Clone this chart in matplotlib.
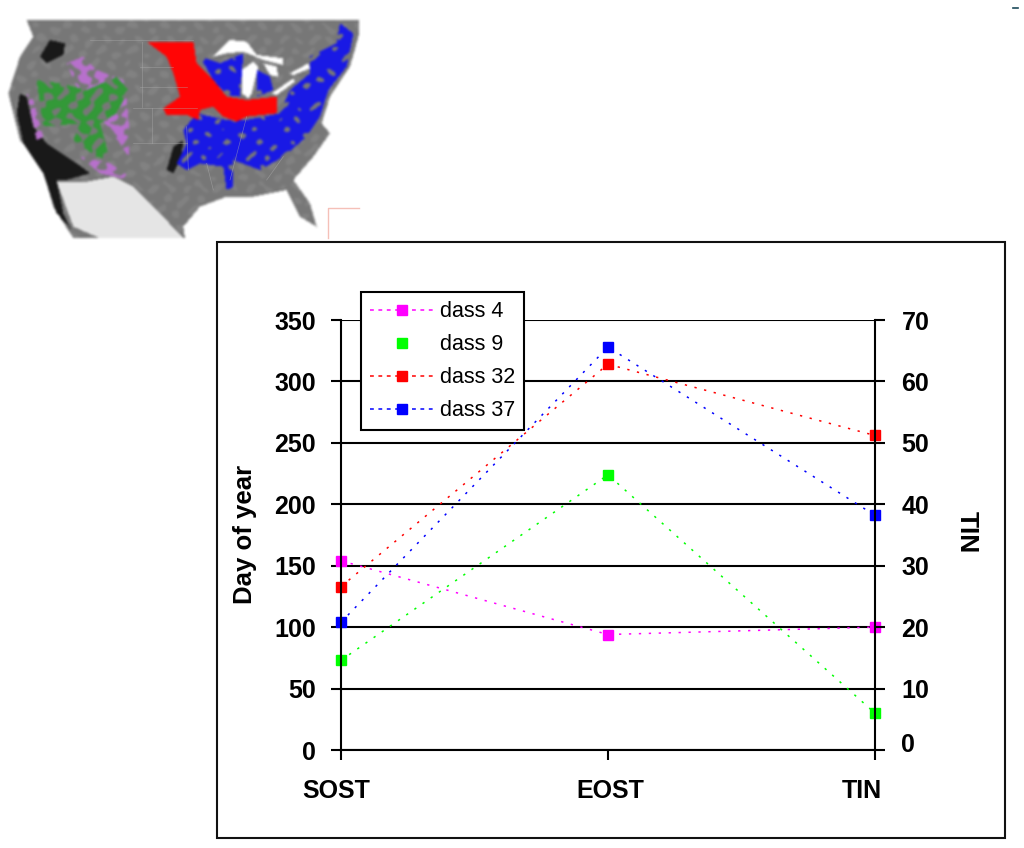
import matplotlib

matplotlib.use("Agg")
import matplotlib.pyplot as plt
import numpy as np
from matplotlib.lines import Line2D
from matplotlib.patches import Rectangle
from matplotlib.path import Path
from matplotlib.transforms import ScaledTranslation

W, H = 1024, 848

# chart values
stages = ["SOST", "EOST", "TIN"]
class_names = ["dass 4", "dass 9", "dass 32", "dass 37"]
class_4 = [154, 94, 100]
class_9 = [73, 224, 30]
class_32 = [133, 314, 256]
class_37 = [104, 328, 191]
class_colors = ["#ff00ff", "#00ff00", "#ff0000", "#0000ff"]
day_ticks = [0, 50, 100, 150, 200, 250, 300, 350]
tin_ticks = [0, 10, 20, 30, 40, 50, 60, 70]

# map shapes, in pixels of the 3x crop of the map corner
land = [(80, 60), (1078, 60), (1078, 100), (1050, 200), (990, 290), (965, 370), (990, 400),
        (940, 470), (880, 540), (930, 610), (950, 680), (900, 650), (860, 570), (760, 590),
        (680, 590), (600, 620), (550, 680), (555, 715), (220, 715), (160, 620), (120, 480),
        (60, 420), (25, 280), (60, 170), (100, 110)]
mexico = [(170, 545), (260, 545), (340, 530), (400, 560), (480, 640), (550, 715), (300, 715), (220, 680)]
dark = [[(60, 280), (80, 290), (100, 380), (140, 430), (230, 490), (270, 520), (200, 540),
         (170, 540), (190, 640), (215, 690), (170, 640), (130, 520), (70, 430), (50, 340)],
        [(120, 170), (150, 120), (195, 130), (190, 165), (140, 190)],
        [(520, 440), (550, 420), (545, 470), (520, 520), (500, 510)]]
lakes = [[(640, 170), (690, 120), (740, 125), (770, 165), (850, 175), (850, 195), (790, 180),
          (730, 155), (680, 160)],
         [(725, 210), (760, 185), (775, 200), (755, 280), (745, 295), (725, 280)],
         [(790, 190), (830, 200), (835, 230), (810, 225)],
         [(815, 280), (880, 235), (885, 245), (830, 285)],
         [(870, 220), (925, 190), (930, 205), (880, 225)]]
red = [[(440, 125), (580, 125), (590, 190), (640, 240), (680, 290), (740, 300), (830, 290),
        (830, 340), (740, 350), (710, 365), (670, 350), (640, 320), (600, 330), (595, 360),
        (560, 345), (500, 345), (490, 325), (540, 290), (520, 220), (500, 170)]]
blue = [[(530, 490), (560, 430), (550, 390), (590, 340), (680, 360), (740, 360), (840, 340),
         (870, 270), (930, 220), (930, 170), (1010, 130), (1020, 70), (1060, 100), (1040, 200),
         (985, 270), (960, 350), (920, 410), (850, 470), (780, 510), (700, 480), (700, 560),
         (680, 570), (670, 500), (600, 490), (560, 510)],
        [(660, 190), (730, 160), (720, 290), (680, 285), (640, 240), (600, 170)],
        [(770, 210), (810, 230), (820, 270), (770, 290)]]
purple = [[(200, 190), (250, 170), (290, 210), (370, 240), (380, 300), (390, 420), (385, 470),
           (360, 430), (300, 350), (230, 260)],
          [(80, 280), (100, 300), (130, 410), (110, 420)],
          [(240, 470), (330, 490), (380, 525), (370, 535), (300, 520)]]
green = [[(110, 240), (180, 250), (260, 270), (350, 230), (385, 270), (350, 340), (300, 370),
          (330, 480), (290, 470), (220, 420), (240, 370), (130, 380)]]
state_lines = [[(270, 120), (580, 120)], [(420, 200), (520, 200)], [(420, 262), (560, 262)],
               [(400, 325), (590, 325)], [(400, 430), (560, 430)], [(425, 125), (425, 320)],
               [(455, 325), (455, 430)], [(560, 380), (565, 510)], [(620, 490), (640, 570)],
               [(740, 350), (690, 540)], [(850, 470), (800, 540)]]


def paint(img, shapes, color, grid, keep):
    for shape in shapes:
        inside = Path(shape).contains_points(grid).reshape(img.shape[:2])
        img[inside & keep] = color


def box_blur(img, passes=2):
    out = img.copy()
    for _ in range(passes):
        for axis in (0, 1):
            out = (np.roll(out, 1, axis) + out + np.roll(out, -1, axis)) / 3
    return out


# rough raster of the map, mottled and softened like the scanned original
rows, cols = 245, 370
xs, ys = np.meshgrid((np.arange(cols) + 0.5) * 3, (np.arange(rows) + 0.5) * 3)
grid = np.column_stack([xs.ravel(), ys.ravel()])
mottle = (np.sin(xs * 0.13 + 2.1 * np.sin(ys * 0.041)) + np.sin(ys * 0.17 + 1.7 * np.sin(xs * 0.067))
          + 0.7 * np.sin((xs + ys) * 0.083 + 1.9 * np.sin(xs * 0.023)))
everywhere = np.ones((rows, cols), dtype=bool)

map_img = np.ones((rows, cols, 3))
paint(map_img, [land], (0.47, 0.47, 0.47), grid, everywhere)
paint(map_img, [land], (0.51, 0.51, 0.51), grid, mottle > 0.8)
paint(map_img, [mexico], (0.90, 0.90, 0.90), grid, everywhere)
paint(map_img, dark, (0.10, 0.10, 0.10), grid, everywhere)
paint(map_img, purple, (0.72, 0.44, 0.80), grid, mottle > -0.4)
paint(map_img, green, (0.20, 0.60, 0.22), grid, mottle > -0.6)
paint(map_img, blue, (0.10, 0.10, 0.90), grid, mottle > -1.6)
paint(map_img, red, (1.0, 0.02, 0.02), grid, everywhere)
paint(map_img, lakes, (1.0, 1.0, 1.0), grid, everywhere)
map_img = box_blur(map_img)

fig = plt.figure(figsize=(W / 100, H / 100), dpi=100)
plt.rcParams["font.family"] = ["Liberation Sans", "DejaVu Sans"]

ax_map = fig.add_axes([0, 1 - 245 / H, 370 / W, 245 / H])
ax_map.imshow(map_img, extent=(0, 1110, 735, 0), interpolation="bilinear", aspect="auto")
ax_map.axis("off")
for line in state_lines:
    ax_map.plot(*zip(*line), color="#b0b0b0", lw=0.5, alpha=0.5)
ax_map.plot([985, 985, 1078], [715, 625, 625], color="#f5c0b8", lw=1.0)

# chart frame
fig.add_artist(Rectangle((217 / W, 1 - 838 / H), 788 / W, 596 / H, transform=fig.transFigure,
                         fc="white", ec="#111111", lw=1.5))
fig.add_artist(Line2D([1013 / W, 1018 / W], [1 - 8 / H, 1 - 8 / H], color="#1c4a5a", lw=1.2))

ax = fig.add_axes([341 / W, 1 - 750 / H, 534 / W, 430 / H])
ax.set_zorder(3)
ax.patch.set_alpha(0)
x = range(len(stages))
series = [class_4, class_9, class_32, class_37]
for values, color in zip(series, class_colors):
    ax.plot(x, values, color=color, lw=1.1, ls=(0, (1.5, 5)), marker="s", ms=7.5,
            mec=color, clip_on=False, zorder=2.2)
ax.set_xlim(0, 2)
ax.set_ylim(0, 350)
ax.set_yticks(day_ticks)
ax.set_xticks(list(x), stages)
ax.grid(axis="y", color="black", lw=1.5)
ax.set_axisbelow(True)
for side in ["top", "right"]:
    ax.spines[side].set_visible(False)
for side in ["left", "bottom"]:
    ax.spines[side].set_linewidth(1.5)
ax.tick_params(length=7, width=1.5, labelsize=18)
ax.tick_params(axis="x", pad=14)
ax.tick_params(axis="y", pad=11, direction="out")
for label in ax.get_xticklabels() + ax.get_yticklabels():
    label.set_fontweight("bold")
shift = [-5, 2, -13]
for label, dx in zip(ax.get_xticklabels(), shift):
    label.set_transform(label.get_transform() + ScaledTranslation(dx / 100, 0, fig.dpi_scale_trans))

ax2 = ax.twinx()
ax2.set_ylim(0, 70)
ax2.set_yticks(tin_ticks)
ax2.set_zorder(4)
for side in ["top", "left", "bottom"]:
    ax2.spines[side].set_visible(False)
ax2.spines["right"].set_linewidth(1.5)
ax2.tick_params(length=7, width=1.5, labelsize=18, pad=12)
for label in ax2.get_yticklabels():
    label.set_fontweight("bold")
zero = ax2.get_yticklabels()[0]
zero.set_transform(zero.get_transform() + ScaledTranslation(0, 8 / 100, fig.dpi_scale_trans))

fig.text(245 / W, 1 - 534 / H, "Day of year", rotation=90, ha="center", va="center",
         fontsize=18.5, fontweight="bold")
fig.text(967 / W, 1 - 532 / H, "TIN", rotation=270, ha="center", va="center",
         fontsize=19, fontweight="bold")

handles = []
for i, color in enumerate(class_colors):
    handles.append(Line2D([], [], color=color, lw=1.1, ls="none" if i == 1 else (0, (2.5, 3)),
                          marker="s", ms=7.5, mec=color))
leg = ax.legend(handles, class_names, loc="upper left",
                bbox_to_anchor=((361 - 341) / 534, (750 - 292) / 430),
                fancybox=False, framealpha=1, edgecolor="black", fontsize=15.5,
                borderpad=0.42, labelspacing=0.56, handlelength=3.0, handletextpad=0.25,
                borderaxespad=0)
leg.get_frame().set_linewidth(1.5)
leg.set_zorder(10)

fig.savefig("out.png", dpi=100, facecolor="white")
